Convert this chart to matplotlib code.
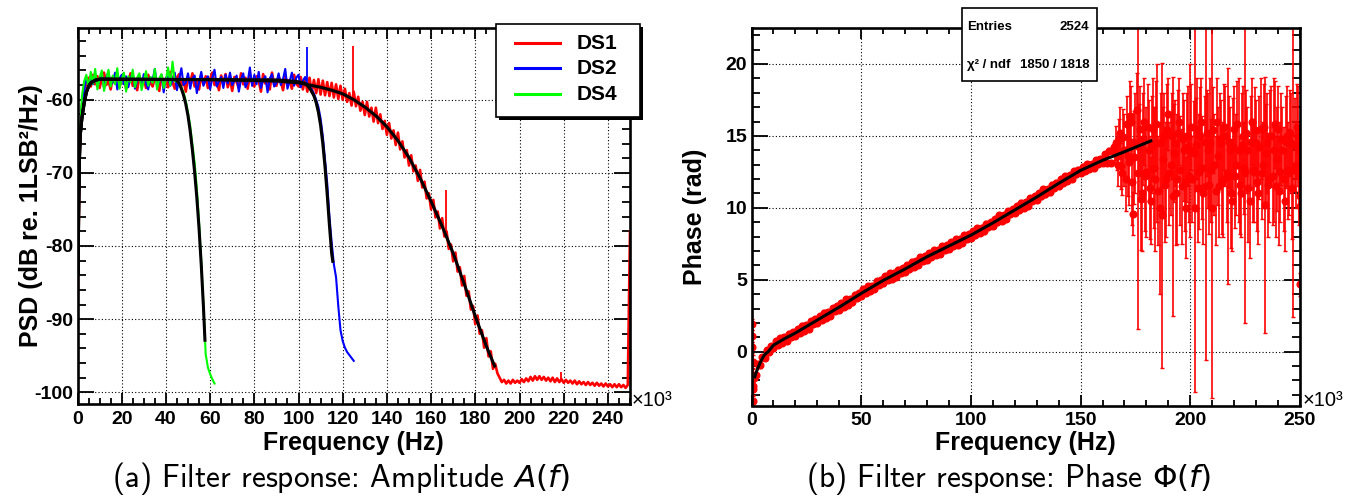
import numpy as np
import matplotlib
matplotlib.use('Agg')
import matplotlib.pyplot as plt
from matplotlib.ticker import MultipleLocator
from matplotlib.patches import Rectangle
from matplotlib.lines import Line2D

plt.rcParams['font.family'] = ['Liberation Sans', 'DejaVu Sans']
plt.rcParams['axes.unicode_minus'] = False
plt.rcParams['mathtext.fontset'] = 'dejavusans'

# ---------------- (a) amplitude, PSD in dB, 1 kHz bins ----------------
ds1_db = [-89.5, -67.0, -61.0, -58.5, -57.9, -57.0, -58.2, -56.6, -57.9, -56.8,
          -58.4, -57.1, -56.3, -58.0, -57.4, -58.6, -56.9, -57.8, -56.5, -58.3,
          -57.2, -56.7, -58.5, -57.6, -56.4, -58.1, -57.3, -58.7, -56.8, -57.9,
          -57.0, -58.4, -56.6, -57.7, -58.2, -56.9, -57.5, -58.8, -56.7, -57.8,
          -57.1, -58.3, -56.2, -57.6, -58.5, -57.0, -56.5, -58.1, -57.4, -58.9,
          -56.9, -57.7, -56.4, -58.2, -57.3, -58.6, -56.6, -57.9, -56.8, -58.4,
          -57.2, -56.3, -58.0, -57.5, -58.7, -56.7, -57.8, -56.5, -58.3, -57.1,
          -58.8, -56.9, -57.6, -58.4, -56.4, -57.9, -57.0, -58.5, -56.6, -57.7,
          -58.2, -56.8, -57.4, -58.9, -56.5, -57.8, -57.2, -58.6, -56.3, -57.9,
          -58.1, -56.9, -57.5, -58.7, -56.7, -58.0, -57.3, -58.5, -56.6, -57.8,
          -58.2, -56.9, -58.6, -57.1, -58.9, -57.0, -59.0, -57.3, -59.1, -57.2,
          -59.3, -57.4, -59.4, -57.6, -59.5, -57.7, -59.7, -57.9, -59.9, -58.1,
          -60.0, -58.5, -60.3, -59.1, -60.8, -58.9, -60.9, -59.6, -61.5, -60.3,
          -62.1, -60.3, -62.3, -61.1, -63.0, -61.1, -63.2, -62.0, -64.0, -62.9,
          -64.8, -63.2, -65.3, -64.2, -66.2, -64.5, -66.8, -65.7, -67.9, -66.9,
          -69.0, -67.6, -69.8, -69.0, -71.1, -69.6, -72.0, -71.2, -73.5, -72.8,
          -75.0, -73.7, -76.1, -75.3, -77.6, -76.2, -78.7, -78.0, -80.4, -79.8,
          -82.1, -80.9, -83.5, -82.9, -85.4, -84.1, -86.8, -86.2, -88.7, -88.2,
          -90.7, -89.5, -92.0, -91.5, -93.9, -92.6, -95.1, -94.4, -96.8, -96.1,
          -97.4, -98.0, -98.6, -98.3, -98.8, -98.4, -98.8, -98.3, -98.7, -98.4,
          -98.7, -98.2, -98.6, -98.1, -98.5, -97.9, -98.4, -97.8, -98.3, -97.8,
          -98.3, -97.9, -98.4, -98.0, -98.5, -98.0, -98.6, -98.1, -98.6, -98.2,
          -98.7, -98.3, -98.7, -98.4, -98.8, -98.4, -98.9, -98.5, -98.9, -98.6,
          -99.0, -98.6, -99.0, -98.7, -99.1, -98.7, -99.1, -98.8, -99.2, -98.8,
          -99.2, -98.9, -99.3, -98.9, -99.3, -98.9, -99.3, -99.0, -99.4, -99.0,
          -78.0]

ds2_db = [-88.0, -66.5, -60.5, -58.8, -57.0, -58.1, -56.7, -57.9, -56.4, -58.2,
          -57.3, -56.5, -58.4, -57.0, -56.2, -58.0, -57.6, -56.3, -58.6, -57.1,
          -56.6, -57.9, -56.8, -58.3, -57.0, -56.4, -58.5, -57.4, -56.7, -58.1,
          -56.5, -57.8, -58.6, -56.9, -57.3, -55.8, -58.2, -57.5, -56.6, -59.0,
          -57.0, -56.8, -58.1, -57.4, -56.3, -58.7, -57.2, -55.7, -58.0, -57.7,
          -56.4, -58.5, -57.1, -56.7, -59.1, -57.6, -56.2, -58.1, -57.3, -56.8,
          -58.6, -57.0, -55.9, -58.2, -57.5, -56.9, -58.4, -56.6, -57.8, -56.3,
          -58.0, -57.4, -56.7, -58.9, -57.2, -56.4, -58.3, -57.6, -55.6, -58.1,
          -56.6, -57.9, -56.2, -58.4, -57.3, -56.8, -59.0, -57.1, -56.5, -58.2,
          -57.7, -56.4, -58.0, -57.2, -55.8, -58.5, -57.5, -56.3, -58.1, -57.0,
          -56.6, -58.3, -57.4, -56.9, -57.8, -58.2, -58.6, -59.2, -60.0, -61.0,
          -62.6, -65.0, -68.2, -71.5, -76.0, -79.5, -82.5, -84.3, -88.2, -91.5,
          -93.0, -93.9, -94.5, -94.9, -95.3, -95.7]

ds4_db = [-85.5, -65.5, -59.5, -57.5, -56.6, -58.4, -56.2, -57.8, -55.8, -58.6,
          -57.0, -56.0, -58.8, -57.3, -55.9, -58.2, -56.7, -57.9, -55.7, -58.5,
          -57.2, -56.3, -58.9, -56.8, -57.6, -55.9, -58.3, -57.0, -56.4, -58.7,
          -57.4, -56.1, -58.1, -56.9, -57.7, -55.8, -58.6, -57.1, -56.5, -58.4,
          -57.3, -55.6, -58.0, -54.8, -57.5, -57.4, -57.9, -58.3, -59.0, -60.2,
          -61.8, -63.6, -66.2, -68.6, -72.2, -76.8, -82.2, -88.2, -94.8, -96.6,
          -97.5, -98.2, -98.8]

# narrow single-bin spikes
spk1_f = [124.5, 166.7, 218.8]
spk1_lo = [-59.5, -78.0, -98.4]
spk1_hi = [-52.6, -72.4, -97.2]
spk2_f = [103.7]
spk2_lo = [-57.5]
spk2_hi = [-52.8]

# fitted filter models
fit1_f = [0.3, 0.5, 0.8, 1.2, 2, 3, 4, 5, 6, 8, 10, 60, 90, 100, 105, 110, 115, 120,
          125, 130, 135, 140, 145, 150, 155, 160, 165, 170, 175, 180, 185, 189]
fit1_db = [-84, -76, -69, -65, -62.5, -60.5, -59.0, -58.2, -57.7, -57.35, -57.2, -57.25,
           -57.45, -57.7, -58.0, -58.3, -58.7, -59.2, -60.0, -61.0, -62.2, -63.7, -65.6,
           -67.9, -70.7, -73.9, -77.3, -81.0, -85.2, -89.6, -93.7, -96.6]
fit2_f = [0.3, 0.5, 0.8, 1.2, 2, 3, 4, 5, 6, 8, 10, 90, 99, 103, 105, 106, 107, 108,
          109, 110, 111, 112, 113, 114, 115, 115.6]
fit2_db = [-84, -76, -69, -65, -62.5, -60.5, -59.0, -58.2, -57.7, -57.35, -57.2, -57.3,
           -57.5, -57.75, -58.4, -58.9, -59.5, -60.4, -61.7, -63.5, -66.0, -69.2, -73.0,
           -77.2, -81.0, -82.3]
fit4_f = [0.3, 0.5, 0.8, 1.2, 2, 3, 4, 5, 6, 8, 10, 44, 45, 46, 47, 48, 49, 50, 51,
          52, 53, 54, 55, 56, 57, 57.7]
fit4_db = [-84, -76, -69, -65, -62.5, -60.5, -59.0, -58.2, -57.7, -57.35, -57.2, -57.25,
           -57.4, -57.8, -58.5, -59.4, -60.6, -62.2, -64.3, -66.9, -69.9, -73.4, -77.6,
           -82.6, -88.4, -93.1]

# ---------------- (b) phase ----------------
# 1 kHz bins from 1 to 165 kHz (well measured part)
band_ph = [-1.8, -1.65, -0.85, -0.95, -0.35, -0.45, 0.12, -0.02, 0.41, 0.25,
           0.74, 0.48, 0.97, 0.61, 1.0, 0.73, 1.26, 1.04, 1.37, 1.1,
           1.59, 1.33, 1.82, 1.46, 1.85, 1.59, 2.13, 1.92, 2.26, 2.0,
           2.49, 2.23, 2.72, 2.36, 2.75, 2.49, 3.03, 2.82, 3.16, 2.9,
           3.4, 3.14, 3.64, 3.28, 3.68, 3.42, 3.97, 3.76, 4.1, 3.85,
           4.34, 4.08, 4.57, 4.21, 4.6, 4.34, 4.88, 4.67, 5.01, 4.75,
           5.23, 4.96, 5.44, 5.07, 5.45, 5.18, 5.71, 5.49, 5.82, 5.55,
           6.04, 5.77, 6.26, 5.89, 6.28, 6.01, 6.55, 6.33, 6.67, 6.4,
           6.88, 6.6, 7.08, 6.7, 7.08, 6.8, 7.33, 7.1, 7.43, 7.15,
           7.63, 7.35, 7.83, 7.45, 7.83, 7.55, 8.08, 7.85, 8.18, 7.9,
           8.39, 8.12, 8.61, 8.24, 8.63, 8.36, 8.9, 8.68, 9.02, 8.75,
           9.24, 8.98, 9.47, 9.11, 9.5, 9.24, 9.78, 9.57, 9.91, 9.65,
           10.14, 9.88, 10.37, 10.01, 10.4, 10.14, 10.68, 10.47, 10.81, 10.55,
           11.05, 10.79, 11.29, 10.93, 11.33, 11.07, 11.62, 11.41, 11.76, 11.5,
           11.99, 11.73, 12.22, 11.86, 12.25, 11.99, 12.53, 12.32, 12.66, 12.4,
           12.87, 12.59, 13.06, 12.68, 13.05, 12.77, 13.29, 13.06, 13.38, 13.1,
           13.76, 13.12, 13.98, 13.14, 14.2]
band_err = 0.15

# 0.5 kHz bins from 165.5 to 250 kHz (noisy part)
noisy_ph = [13.9, 14.5, 13.6, 13.0, 14.8, 15.2, 12.9, 12.4, 14.9, 14.0,
            12.0, 15.8, 13.6, 13.2, 16.4, 16.0, 11.8, 9.6, 13.5, 14.5,
            16.8, 12.4, 14.2, 15.5, 10.6, 11.0, 14.8, 16.0, 12.2, 12.5,
            15.6, 14.0, 11.4, 10.5, 14.4, 15.5, 12.8, 12.0, 15.8, 14.5,
            11.2, 10.0, 14.6, 9.5, 13.4, 15.0, 11.6, 12.0, 15.4, 16.5,
            12.4, 13.0, 15.0, 10.8, 13.8, 14.5, 11.0, 12.0, 15.2, 16.0,
            12.6, 11.5, 14.8, 14.0, 11.8, 10.0, 14.2, 15.0, 12.2, 14.0,
            15.6, 12.0, 13.8, 10.0, 14.4, 15.5, 11.4, 12.5, 15.0, 16.0,
            12.8, 11.0, 14.6, 11.5, 15.2, 14.0, 11.6, 14.5, 12.6, 10.0,
            15.4, 13.0, 11.2, 16.0, 13.6, 11.5, 14.8, 14.5, 11.8, 12.0,
            15.6, 15.0, 12.4, 12.2, 14.6, 14.0, 11.0, 10.5, 14.2, 15.5,
            12.2, 13.0, 15.8, 14.0, 11.6, 11.0, 14.4, 15.0, 12.8, 12.5,
            15.2, 14.0, 11.4, 10.5, 14.6, 16.0, 12.6, 12.5, 15.4, 14.5,
            11.8, 11.0, 14.2, 15.5, 12.4, 13.0, 15.6, 10.2, 13.8, 14.5,
            11.6, 12.0, 15.0, 15.0, 12.2, 14.0, 15.8, 11.5, 13.4, 15.5,
            11.2, 12.5, 14.8, 14.0, 12.0, 10.5, 14.6, 15.0, 12.6, 12.5,
            15.2, 14.5, 11.4, 12.6, 14.4, 13.0, 15.6, 15.0, 12.2, 12.4]
noisy_err = [0.8, 1.2, 1.0, 1.5, 1.4, 1.8, 1.6, 1.5, 2.0, 2.5,
             2.2, 2.0, 2.8, 3.0, 2.4, 2.5, 3.0, 1.5, 3.2, 3.5,
             2.6, 10.8, 3.0, 3.0, 3.5, 4.0, 3.2, 3.0, 3.8, 4.5,
             3.0, 3.5, 3.6, 3.0, 3.4, 3.5, 4.2, 5.0, 3.0, 5.5,
             3.8, 6.0, 3.4, 10.6, 3.6, 3.0, 4.0, 4.0, 3.2, 2.5,
             3.6, 3.5, 3.0, 8.3, 3.4, 3.0, 3.6, 4.5, 3.0, 3.0,
             3.8, 4.0, 3.2, 3.5, 3.4, 3.5, 3.8, 3.5, 3.2, 6.0,
             3.0, 3.0, 3.6, 12.8, 3.2, 3.5, 3.8, 4.0, 3.4, 3.0,
             3.6, 3.5, 3.2, 12.1, 3.0, 4.0, 3.4, 4.5, 3.6, 13.2,
             3.0, 3.5, 3.8, 3.0, 3.4, 3.5, 3.2, 3.0, 3.6, 4.0,
             3.0, 3.5, 3.4, 7.5, 3.2, 3.0, 3.8, 3.5, 3.4, 3.0,
             3.6, 3.5, 3.0, 5.0, 3.4, 3.0, 3.6, 3.5, 3.2, 10.5,
             3.0, 3.0, 3.8, 4.0, 3.2, 3.0, 3.6, 3.5, 3.0, 3.0,
             3.4, 3.5, 3.6, 3.5, 3.2, 3.0, 3.0, 8.9, 3.4, 3.5,
             3.6, 3.0, 3.2, 3.5, 3.4, 5.0, 3.0, 3.5, 3.6, 3.0,
             3.8, 3.5, 3.2, 3.0, 3.6, 3.5, 3.2, 3.5, 3.4, 3.0,
             3.0, 3.5, 3.6, 10.2, 3.2, 3.0, 3.0, 3.5, 3.4, 2.5]

extra_f = [0.2, 0.3, 0.4, 0.5, 0.6, 0.7, 0.8, 0.9, 249.9, 249.9, 249.9, 249.9, 249.9]
extra_ph = [1.9, 1.1, 0.3, -0.7, -1.6, -2.6, -3.4, -2.4, 4.7, 10.1, 10.8, 12.2, 13.9]
extra_err = [0.4, 0.4, 0.4, 0.5, 0.5, 0.5, 0.4, 0.4, 0.8, 1.0, 1.0, 1.0, 1.0]
dc_f, dc_ph, dc_err = [0.4], [9.0], [14.0]

fitp_f = [1.5, 2, 3, 4, 5, 6, 7.6, 10, 15, 20, 30, 40, 50, 60, 70, 80, 90, 100,
          110, 120, 130, 140, 150, 160, 170, 182]
fitp_ph = [-1.75, -1.5, -1.1, -0.75, -0.45, -0.2, 0.0, 0.45, 0.9, 1.3, 2.2, 3.1,
           4.05, 4.95, 5.75, 6.6, 7.35, 8.1, 8.95, 9.85, 10.75, 11.7, 12.6, 13.3,
           13.9, 14.65]

W, H = 1356, 496
fig = plt.figure(figsize=(W / 100, H / 100), dpi=100)


def fx(x):
    return x / W


def fy(y):
    return 1 - y / H


axL = fig.add_axes([fx(77.5), fy(404), (630 - 77.5) / W, (404 - 27.7) / H])
axR = fig.add_axes([fx(751.5), fy(405.5), (1300 - 751.5) / W, (405.5 - 27.7) / H])

# amplitude panel
axL.plot(np.arange(len(ds1_db)), ds1_db, color='#ff0000', lw=1.9, zorder=2)
axL.vlines(spk1_f, spk1_lo, spk1_hi, color='#ff0000', lw=1.3, zorder=2)
axL.plot(np.arange(len(ds2_db)), ds2_db, color='#0000ff', lw=1.5, zorder=3)
axL.vlines(spk2_f, spk2_lo, spk2_hi, color='#0000ff', lw=1.3, zorder=3)
axL.plot(np.arange(len(ds4_db)), ds4_db, color='#00ff00', lw=1.5, zorder=4)
for ff, dd in [(fit1_f, fit1_db), (fit2_f, fit2_db), (fit4_f, fit4_db)]:
    axL.plot(ff, dd, color='black', lw=2.2, zorder=5, solid_capstyle='butt')
axL.set_xlim(0, 250)
axL.set_ylim(-101.6, -50.16)
axL.xaxis.set_major_locator(MultipleLocator(20))
axL.xaxis.set_minor_locator(MultipleLocator(5))
axL.yaxis.set_major_locator(MultipleLocator(10))
axL.yaxis.set_minor_locator(MultipleLocator(2))

# phase panel
band_f = np.arange(1, len(band_ph) + 1)
noisy_f = np.arange(len(noisy_ph)) * 0.5 + 165.5
ekw = dict(fmt='o', color='#ff0000', ms=4.8, elinewidth=1.2, capsize=1.5, capthick=1.0, zorder=2)
axR.errorbar(dc_f, dc_ph, yerr=dc_err, fmt='none', ecolor='#ff0000', elinewidth=1.5, zorder=2)
axR.errorbar(noisy_f, noisy_ph, yerr=noisy_err, **ekw)
axR.errorbar(band_f, band_ph, yerr=band_err, **ekw)
axR.errorbar(extra_f, extra_ph, yerr=extra_err, **ekw)
axR.plot(fitp_f, fitp_ph, color='black', lw=2.2, zorder=5)
axR.set_xlim(0, 250)
axR.set_ylim(-3.74, 22.52)
axR.xaxis.set_major_locator(MultipleLocator(50))
axR.xaxis.set_minor_locator(MultipleLocator(10))
axR.yaxis.set_major_locator(MultipleLocator(5))
axR.yaxis.set_minor_locator(MultipleLocator(1))

for ax in (axL, axR):
    ax.set_axisbelow(True)
    ax.grid(True, which='major', color='black', lw=0.8, ls=(0, (1, 2)))
    ax.tick_params(which='both', direction='in', top=True, right=True, labelsize=14, width=1.3)
    ax.tick_params(axis='y', which='major', length=11.5, pad=3)
    ax.tick_params(axis='y', which='minor', length=5.8)
    ax.tick_params(axis='x', which='major', length=8, pad=5)
    ax.tick_params(axis='x', which='minor', length=4.3)
    for lab in ax.get_xticklabels() + ax.get_yticklabels():
        lab.set_fontweight('bold')
    for s in ax.spines.values():
        s.set_linewidth(1.9)
        s.set_zorder(6)

# axis titles
bold = dict(fontweight='bold')
fig.text(fx(31), fy(216), 'PSD (dB re. 1LSB²/Hz)', rotation=90, ha='center', va='center', fontsize=18, **bold)
fig.text(fx(695), fy(217), 'Phase (rad)', rotation=90, ha='center', va='center', fontsize=18, **bold)
fig.text(fx(353.7), fy(450), 'Frequency (Hz)', ha='center', va='baseline', fontsize=18, **bold)
fig.text(fx(1025.7), fy(450), 'Frequency (Hz)', ha='center', va='baseline', fontsize=18, **bold)
fig.text(fx(632), fy(406), '×10³', ha='left', va='baseline', fontsize=14.5)
fig.text(fx(1302.5), fy(406), '×10³', ha='left', va='baseline', fontsize=14.5)

# captions
fig.text(fx(341), fy(487), r'(a) Filter response: Amplitude $A(f)$', ha='center', va='baseline',
         fontsize=22.5, family='cmss10')
fig.text(fx(1009), fy(487), r'(b) Filter response: Phase $\Phi(f)$', ha='center', va='baseline',
         fontsize=22.5, family='cmss10')

# legend box with shadow
fig.add_artist(Rectangle((fx(499), fy(120)), 144 / W, 93 / H, transform=fig.transFigure,
                         facecolor='black', edgecolor='none', zorder=7))
fig.add_artist(Rectangle((fx(496), fy(117)), 144 / W, 93 / H, transform=fig.transFigure,
                         facecolor='white', edgecolor='black', lw=1.2, zorder=8))
for lab, col, yc in [('DS1', '#ff0000', 43.3), ('DS2', '#0000ff', 68.3), ('DS4', '#00ff00', 94)]:
    fig.add_artist(Line2D([fx(515), fx(560)], [fy(yc), fy(yc)], transform=fig.transFigure,
                          color=col, lw=2.2, zorder=9))
    fig.text(fx(577), fy(yc), lab, ha='left', va='center', fontsize=15, zorder=9, **bold)

# fit statistics box
fig.add_artist(Rectangle((fx(962), fy(81)), 134.5 / W, 73.5 / H, transform=fig.transFigure,
                         facecolor='white', edgecolor='black', lw=1.2, zorder=8))
fig.text(fx(967), fy(27.3), 'Entries', ha='left', va='center', fontsize=9.5, zorder=9, **bold)
fig.text(fx(1089), fy(27.3), '2524', ha='right', va='center', fontsize=9.5, zorder=9, **bold)
fig.text(fx(967), fy(65), 'χ² / ndf', ha='left', va='center', fontsize=9.5, zorder=9, **bold)
fig.text(fx(1089), fy(65), '1850 / 1818', ha='right', va='center', fontsize=9.5, zorder=9, **bold)

fig.savefig('out.png', dpi=100)
